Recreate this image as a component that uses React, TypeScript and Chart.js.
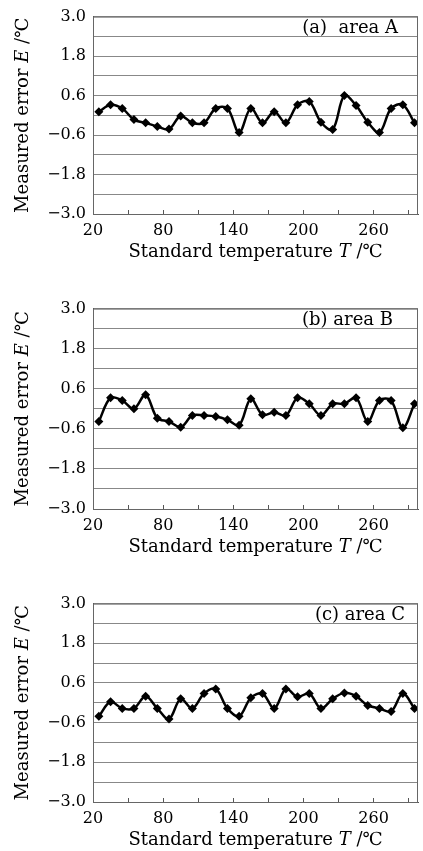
import { useEffect, useRef } from "react";
import { Chart, registerables } from "chart.js";

Chart.register(...registerables);

// Standard temperature T (°C)
const temperatures = [25, 35, 45, 55, 65, 75, 85, 95, 105, 115, 125, 135, 145, 155, 165, 175, 185, 195, 205, 215, 225, 235, 245, 255, 265, 275, 285, 295];

// Measured error E (°C)
const errorA = [0.11, 0.32, 0.21, -0.13, -0.23, -0.34, -0.42, -0.02, -0.23, -0.23, 0.21, 0.21, -0.52, 0.21, -0.23, 0.11, -0.23, 0.32, 0.42, -0.21, -0.43, 0.6, 0.3, -0.21, -0.52, 0.21, 0.32, -0.23];
const errorB = [-0.38, 0.33, 0.25, 0.0, 0.42, -0.28, -0.38, -0.55, -0.2, -0.2, -0.23, -0.33, -0.49, 0.3, -0.18, -0.1, -0.2, 0.33, 0.15, -0.2, 0.15, 0.15, 0.33, -0.38, 0.25, 0.25, -0.57, 0.15];
const errorC = [-0.41, 0.03, -0.17, -0.17, 0.2, -0.17, -0.49, 0.12, -0.17, 0.28, 0.42, -0.17, -0.41, 0.15, 0.28, -0.17, 0.42, 0.18, 0.28, -0.17, 0.12, 0.3, 0.2, -0.08, -0.17, -0.26, 0.28, -0.17];

// Axis ticks
const xTickValues = [20, 50, 80, 110, 140, 170, 200, 230, 260, 290];
const xTickLabels = [20, 80, 140, 200, 260];
const yGridValues = [-3.0, -2.4, -1.8, -1.2, -0.6, 0, 0.6, 1.2, 1.8, 2.4, 3.0];
const yTickLabels = [-3.0, -1.8, -0.6, 0.6, 1.8, 3.0];

const panelLabels = ["(a)  area A", "(b) area B", "(c) area C"];
const xTitle = [
  { text: "Standard temperature ", italic: false },
  { text: "T", italic: true },
  { text: " /\u2103", italic: false },
];
const yTitle = [
  { text: "Measured error ", italic: false },
  { text: "E", italic: true },
  { text: " /\u2103", italic: false },
];

const FONT = "'DejaVu Serif', 'Liberation Serif', serif";

type Seg = { text: string; italic: boolean };

function drawSegments(ctx: CanvasRenderingContext2D, segs: Seg[], cx: number, cy: number, size: number) {
  const fonts = segs.map((s) => `${s.italic ? "italic " : ""}${size}px ${FONT}`);
  let total = 0;
  const widths = segs.map((s, i) => {
    ctx.font = fonts[i];
    const w = ctx.measureText(s.text).width;
    total += w;
    return w;
  });
  let x = cx - total / 2;
  ctx.textBaseline = "middle";
  ctx.textAlign = "left";
  segs.forEach((s, i) => {
    ctx.font = fonts[i];
    ctx.fillText(s.text, x, cy);
    x += widths[i];
  });
}

function fmt(v: number) {
  const s = Math.abs(v).toFixed(1);
  return v < 0 ? "\u2212" + s : s;
}

type PanelProps = {
  values: number[];
  label: string;
  top: number;
  plotHeight: number;
  labelInset: number;
};

function Panel({ values, label, top, plotHeight, labelInset }: PanelProps) {
  const ref = useRef<HTMLCanvasElement | null>(null);
  const padTop = 15;
  const xAxisH = 52;
  const height = Math.round(padTop + plotHeight + xAxisH);

  useEffect(() => {
    if (!ref.current) return;
    const decor = {
      id: "decor",
      afterDraw(chart: any) {
        const { ctx, chartArea } = chart;
        ctx.save();
        ctx.strokeStyle = "#666";
        ctx.lineWidth = 1;
        ctx.strokeRect(chartArea.left + 0.5, chartArea.top + 0.5, chartArea.right - chartArea.left - 1, chartArea.bottom - chartArea.top);
        ctx.fillStyle = "#000";
        // panel label
        ctx.font = `18px ${FONT}`;
        ctx.textAlign = "right";
        ctx.textBaseline = "middle";
        ctx.fillText(label, chartArea.right - labelInset, chartArea.top + 12);
        // x title
        drawSegments(ctx, xTitle, (chartArea.left + chartArea.right) / 2, chartArea.bottom + 38, 18);
        // y title
        ctx.translate(23, (chartArea.top + chartArea.bottom) / 2);
        ctx.rotate(-Math.PI / 2);
        drawSegments(ctx, yTitle, 0, 0, 18);
        ctx.restore();
      },
    };
    const chart = new Chart(ref.current, {
      type: "line",
      data: {
        datasets: [
          {
            data: temperatures.map((t, i) => ({ x: t, y: values[i] })),
            borderColor: "#000",
            backgroundColor: "#000",
            borderWidth: 2.5,
            pointStyle: "rectRot",
            pointRadius: 4.5,
            pointBorderWidth: 0,
            tension: 0.35,
          },
        ],
      },
      options: {
        animation: false,
        responsive: false,
        maintainAspectRatio: false,
        layout: { padding: { top: padTop, right: 5, left: 0, bottom: 0 } },
        plugins: { legend: { display: false }, tooltip: { enabled: false } },
        scales: {
          x: {
            type: "linear",
            min: 20,
            max: 298,
            afterBuildTicks: (s: any) => {
              s.ticks = xTickValues.map((v) => ({ value: v }));
            },
            afterFit: (s: any) => {
              s.height = xAxisH;
            },
            ticks: {
              autoSkip: false,
              maxRotation: 0,
              padding: 11,
              color: "#000",
              font: { family: FONT, size: 16 },
              callback: (v: any) => (xTickLabels.includes(Number(v)) ? String(v) : ""),
            },
            grid: { drawOnChartArea: false, drawTicks: true, tickLength: -4, color: "#555", lineWidth: 1 },
            border: { color: "#555", width: 1 },
          },
          y: {
            min: -3,
            max: 3,
            afterBuildTicks: (s: any) => {
              s.ticks = yGridValues.map((v) => ({ value: v }));
            },
            afterFit: (s: any) => {
              s.width = 93;
            },
            ticks: {
              autoSkip: false,
              padding: 7,
              color: "#000",
              font: { family: FONT, size: 16 },
              callback: (v: any) => {
                const n = Number(v);
                return yTickLabels.some((t) => Math.abs(t - n) < 1e-6) ? fmt(n) : "";
              },
            },
            grid: { color: "#888", lineWidth: 1, drawTicks: false },
            border: { color: "#555", width: 1 },
          },
        },
      },
      plugins: [decor],
    } as any);
    return () => chart.destroy();
  }, [values, label, labelInset, plotHeight]);

  return (
    <canvas
      ref={ref}
      width={423}
      height={height}
      style={{ position: "absolute", left: 0, top, width: 423, height }}
    />
  );
}

export default function App() {
  return (
    <div style={{ position: "fixed", left: 0, top: 0, width: 423, height: 851, background: "#fff" }}>
      <Panel values={errorA} label={panelLabels[0]} top={0} plotHeight={198.6} labelInset={20} />
      <Panel values={errorB} label={panelLabels[1]} top={292} plotHeight={201.6} labelInset={25} />
      <Panel values={errorC} label={panelLabels[2]} top={587} plotHeight={200} labelInset={13} />
    </div>
  );
}
